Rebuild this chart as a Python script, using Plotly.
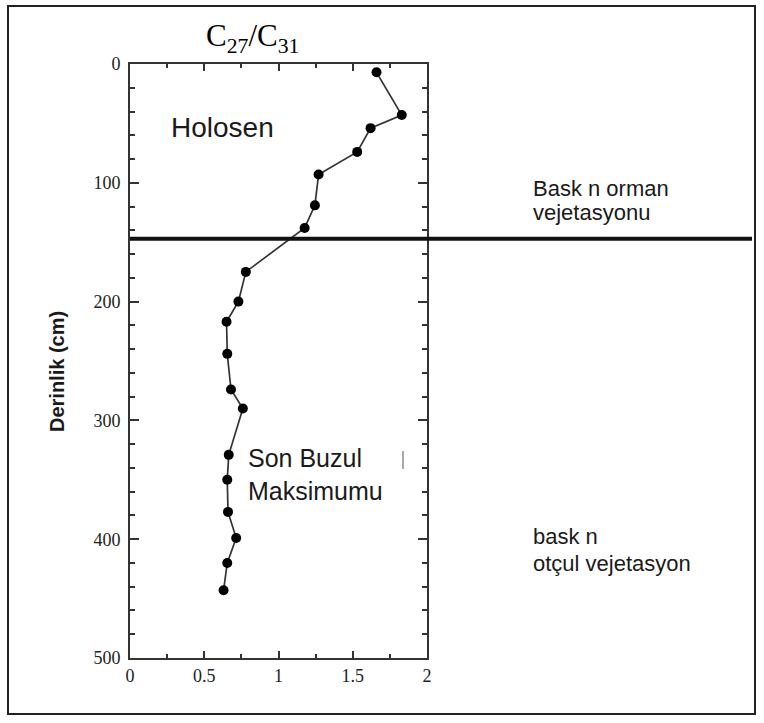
import plotly.graph_objects as go

# Data
ratio = [1.66, 1.83, 1.62, 1.53, 1.27, 1.245, 1.176, 0.78, 0.73, 0.65, 0.655,
         0.68, 0.76, 0.665, 0.655, 0.66, 0.715, 0.655, 0.63]
depth = [7, 43, 54, 74, 93, 119, 138, 175, 200, 217, 244,
         274, 290, 329, 350, 377, 399, 420, 443]
boundary_depth = 147
x_ticks = [0, 0.5, 1, 1.5, 2]
x_labels = ["0", "0.5", "1", "1.5", "2"]
y_ticks = [0, 100, 200, 300, 400, 500]
y_labels = ["0", "100", "200", "300", "400", "500"]

W, H = 764, 723
L, R, T, B = 130, 427, 64, 658


def px(x):
    return (x - L) / (R - L)


def py(y):
    return (B - y) / (B - T)


serif = "Liberation Serif, Times New Roman, serif"
sans = "Liberation Sans, Arial, sans-serif"

fig = go.Figure()
fig.add_trace(go.Scatter(
    x=ratio, y=depth, mode="lines+markers",
    line=dict(color="#333333", width=1.7),
    marker=dict(color="black", size=10),
    showlegend=False, cliponaxis=False,
))

fig.update_layout(
    width=W, height=H,
    margin=dict(l=L, r=W - R, t=T, b=H - B),
    paper_bgcolor="white", plot_bgcolor="white",
    font=dict(family=serif, size=18, color="#222"),
)
fig.update_xaxes(
    range=[0, 2], tickmode="array", tickvals=x_ticks, ticktext=x_labels,
    ticks="inside", ticklen=7, tickwidth=1.5, tickcolor="#333",
    showline=True, linecolor="#333", linewidth=2, mirror="allticks",
    showgrid=False, zeroline=False,
    minor=dict(dtick=0.25, ticks="inside", ticklen=4, tickcolor="#333", showgrid=False),
    tickfont_family=serif, tickfont_size=18, tickfont_color="#222",
)
fig.update_yaxes(
    range=[500, 0], tickmode="array", tickvals=y_ticks, ticktext=y_labels,
    ticks="inside", ticklen=9, tickwidth=1.5, tickcolor="#333",
    showline=True, linecolor="#333", linewidth=2, mirror="allticks",
    showgrid=False, zeroline=False,
    minor=dict(dtick=20, ticks="inside", ticklen=5, tickcolor="#333", showgrid=False),
    tickfont_family=serif, tickfont_size=18, tickfont_color="#222",
    ticklabelstandoff=4,
)

# boundary line
fig.add_shape(type="line", xref="paper", yref="y", x0=0, x1=px(752),
              y0=boundary_depth, y1=boundary_depth,
              line=dict(color="#111", width=4))
# outer frame
fig.add_shape(type="rect", xref="paper", yref="paper",
              x0=px(8), x1=px(755), y0=py(714), y1=py(6),
              line=dict(color="#222", width=2))
# small tick artifact
fig.add_shape(type="line", xref="paper", yref="paper",
              x0=px(403), x1=px(403), y0=py(451), y1=py(469),
              line=dict(color="#555", width=1))


def ann(text, x, y, size, family=sans, xanchor="left", angle=0, color="#1a1a1a"):
    fig.add_annotation(text=text, xref="paper", yref="paper", x=px(x), y=py(y),
                       xanchor=xanchor, yanchor="middle", showarrow=False,
                       textangle=angle, font=dict(family=family, size=size, color=color))


ann("C<sub>27</sub>/C<sub>31</sub>", 252, 38, 31, family=serif, xanchor="center", color="black")
ann("Holosen", 169, 127, 28)
ann("Son Buzul", 246, 458, 25)
ann("Maksimumu", 246, 491, 25)
ann("Bask n orman", 531, 188, 22)
ann("vejetasyonu", 531, 212, 22)
ann("bask n", 531, 536, 22)
ann("otçul vejetasyon", 531, 563, 22)
ann("<b>Derinlik (cm)</b>", 57, 372, 20, xanchor="center", angle=-90)

fig.write_html("out.html")
